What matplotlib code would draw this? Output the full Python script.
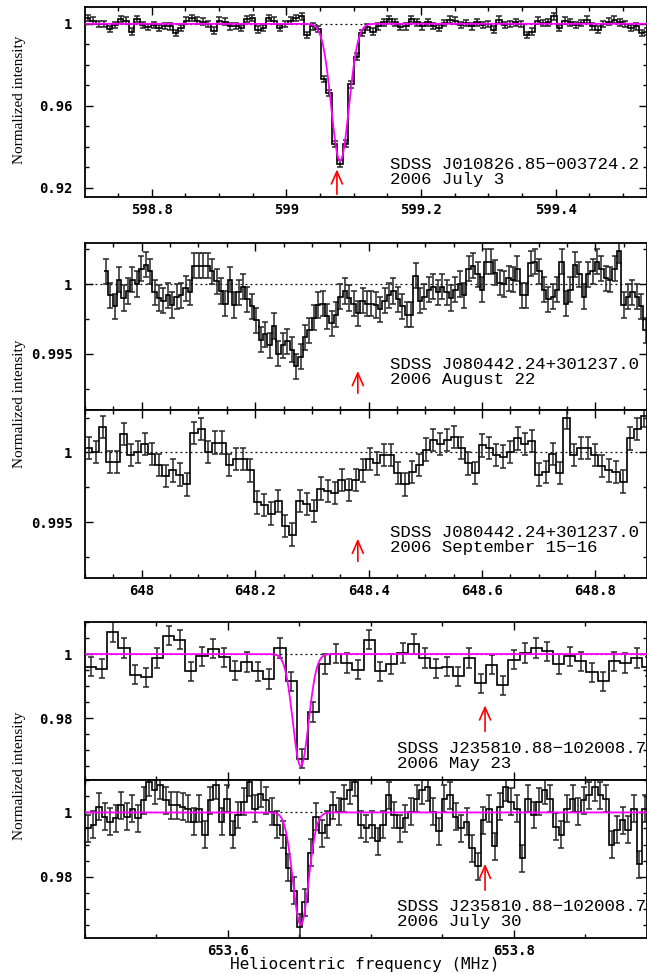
import numpy as np
import matplotlib
matplotlib.use('Agg')
import matplotlib.pyplot as plt
from matplotlib.ticker import MultipleLocator, FuncFormatter

plt.rcParams['font.family'] = 'DejaVu Sans Mono'

# ---- panel 1: SDSS J010826.85-003724.2, 2006 July 3
p1_start = 598.7007   # first channel edge (MHz)
p1_width = 0.00815    # channel width (MHz)
p1_flux = [1.0028, 1.0016, 1.0000, 1.0000, 0.9974, 0.9995, 1.0023, 1.0016, 0.9962, 1.0023,
           0.9995, 0.9984, 0.9995, 0.9979, 0.9990, 0.9987, 0.9954, 0.9979, 1.0016, 1.0028,
           1.0016, 1.0011, 1.0000, 0.9967, 1.0016, 1.0011, 0.9987, 0.9990, 0.9979, 1.0023,
           1.0028, 0.9971, 0.9979, 1.0028, 1.0016, 0.9979, 1.0000, 1.0016, 1.0028, 1.0036,
           0.9946, 0.9987, 0.9974, 0.9730, 0.9663, 0.9412, 0.9317, 0.9415, 0.9704, 0.9840,
           0.9954, 0.9984, 0.9962, 0.9987, 1.0007, 1.0023, 1.0007, 0.9984, 0.9987, 1.0023,
           1.0007, 0.9987, 1.0007, 0.9990, 0.9979, 1.0003, 1.0020, 1.0016, 0.9995, 1.0003,
           0.9987, 1.0007, 0.9995, 1.0000, 0.9971, 1.0020, 0.9995, 1.0000, 1.0007, 1.0000,
           0.9946, 0.9962, 1.0016, 1.0003, 1.0007, 1.0036, 0.9979, 1.0016, 1.0007, 0.9995,
           1.0003, 1.0020, 0.9987, 0.9971, 1.0000, 1.0011, 1.0020, 1.0007, 1.0000, 0.9979,
           0.9987, 0.9954, 0.9962]
p1_err = 0.0016
p1_fit = [599.0797, 0.067, 0.031]   # centre, depth, FWHM

# ---- panel 2: SDSS J080442.24+301237.0, 2006 August 22
p2_start = 647.933
p2_width = 0.0078
p2_flux = [1.0009, 0.9992, 0.9984, 1.0003, 0.9990, 0.9995, 1.0003, 1.0000, 1.0011, 1.0014,
           1.0009, 0.9994, 0.9990, 0.9988, 0.9992, 0.9985, 0.9991, 0.9992, 0.9997, 0.9994,
           1.0013, 1.0013, 1.0013, 1.0013, 1.0009, 1.0002, 0.9995, 0.9986, 1.0003, 0.9985,
           0.9994, 0.9998, 0.9989, 0.9984, 0.9974, 0.9960, 0.9964, 0.9956, 0.9970, 0.9950,
           0.9956, 0.9959, 0.9953, 0.9941, 0.9948, 0.9962, 0.9967, 0.9976, 0.9985, 0.9986,
           0.9977, 0.9972, 0.9978, 0.9991, 0.9995, 0.9990, 0.9986, 0.9979, 0.9988,
           0.9986, 0.9986, 0.9985, 0.9982, 0.9988, 0.9992, 0.9995, 0.9989, 0.9984, 0.9978,
           0.9978, 1.0006, 0.9988, 0.9991, 0.9996, 0.9998, 0.9994, 0.9998, 0.9994, 0.9990,
           0.9996, 1.0000, 0.9992, 1.0011, 1.0013, 1.0007, 0.9996, 1.0016, 1.0016, 1.0008,
           1.0001, 1.0000, 1.0004, 1.0003, 1.0011, 0.9992, 0.9992, 1.0015, 1.0016, 1.0009,
           0.9996, 0.9989, 0.9991, 0.9996, 1.0016, 0.9986, 0.9996, 1.0014, 1.0007, 0.9991,
           1.0007, 1.0009, 1.0016, 1.0011, 1.0004, 1.0003, 1.0011, 1.0024, 0.9985, 0.9991,
           0.9994, 0.9991, 0.9984, 0.9967, 0.9988]
p2_err = 0.0009

# ---- panel 3: SDSS J080442.24+301237.0, 2006 September 15-16
p3_start = 647.9
p3_width = 0.0124
p3_flux = [1.0003, 1.0000, 1.0018, 0.9993, 0.9993, 1.0013, 0.9998, 1.0000, 1.0006, 0.9999,
           0.9991, 0.9983, 0.9987, 0.9984, 0.9977, 1.0014, 1.0017, 1.0000, 1.0007, 1.0007,
           0.9991, 0.9995, 0.9995, 0.9987, 0.9964, 0.9962, 0.9956, 0.9965, 0.9947, 0.9941,
           0.9965, 0.9963, 0.9958, 0.9974, 0.9972, 0.9971, 0.9980, 0.9973, 0.9980, 0.9987,
           0.9995, 0.9992, 0.9998, 0.9998, 0.9985, 0.9977, 0.9986, 0.9991, 1.0002, 1.0009,
           1.0006, 1.0009, 1.0011, 1.0003, 0.9992, 0.9985, 1.0005, 1.0003, 0.9998, 0.9997,
           1.0000, 1.0010, 1.0006, 1.0008, 0.9984, 0.9986, 0.9999, 0.9985, 1.0025, 0.9998,
           1.0003, 1.0003, 0.9998, 0.9990, 0.9987, 0.9986, 0.9979, 1.0010, 1.0017, 1.0026]
p3_err = 0.0008

# ---- panel 4: SDSS J235810.88-102008.7, 2006 May 23
p4_start = 653.5
p4_width = 0.0078
p4_flux = [0.9961, 0.9954, 1.0069, 1.0019, 0.9935, 0.9927, 0.9988, 1.0057, 1.0045, 0.9946,
           0.9993, 1.0017, 0.9990, 0.9948, 0.9975, 0.9946, 0.9922, 1.0019, 0.9915, 0.9673,
           0.9819, 0.9969, 1.0001, 0.9972, 0.9951, 1.0045, 0.9946, 0.9969, 1.0003, 1.0031,
           0.9988, 0.9956, 0.9961, 0.9930, 0.9988, 0.9909, 0.9967, 0.9902, 0.9982, 1.0003,
           1.0019, 1.0008, 0.9969, 0.9993, 0.9977, 0.9943, 0.9915, 0.9977, 0.9972, 0.9988,
           0.9961]
p4_err = 0.003

# ---- panel 5: SDSS J235810.88-102008.7, 2006 July 30
p5_start = 653.5
p5_width = 0.0039
p5_flux = [0.9951, 0.9961, 1.0017, 0.9987, 0.9971, 0.9982, 1.0023, 0.9987, 1.0012, 0.9982,
           1.0038, 1.0094, 1.0069, 1.0084, 1.0038, 1.0023, 1.0023, 1.0017, 1.0012, 0.9971,
           1.0012, 0.9930, 1.0038, 1.0084, 0.9971, 1.0043, 0.9930, 0.9992, 1.0033, 1.0094,
           1.0012, 1.0058, 1.0038, 1.0002, 0.9961, 0.9930, 0.9828, 0.9756, 0.9643, 0.9720,
           0.9874, 0.9987, 0.9935, 0.9961, 1.0023, 1.0002, 1.0043, 1.0069, 1.0094, 0.9961,
           0.9951, 0.9961, 0.9910, 0.9961, 1.0053, 0.9992, 0.9951, 0.9982, 1.0002, 1.0043,
           1.0069, 1.0079, 1.0002, 0.9941, 1.0043, 1.0053, 0.9987, 0.9951, 0.9971, 0.9889,
           0.9833, 0.9976, 1.0012, 0.9894, 1.0017, 1.0079, 1.0033, 1.0012, 0.9858, 1.0043,
           0.9992, 1.0033, 1.0069, 1.0043, 0.9956, 0.9930, 1.0012, 1.0043, 1.0002, 1.0038,
           1.0053, 1.0079, 1.0053, 1.0043, 0.9899, 0.9946, 0.9976, 0.9946, 1.0012, 0.9838,
           1.0012]
p5_err = 0.0042
p45_fit = [653.651, 0.035, 0.013]

# expected line positions (red arrows)
arrow_freq = [599.075, 648.381, 648.381, 653.78, 653.78]

labels = ["SDSS J010826.85\u2212003724.2\n2006 July 3",
          "SDSS J080442.24+301237.0\n2006 August 22",
          "SDSS J080442.24+301237.0\n2006 September 15\u221216",
          "SDSS J235810.88\u2212102008.7\n2006 May 23",
          "SDSS J235810.88\u2212102008.7\n2006 July 30"]

W, H = 647.0, 974.0
fig = plt.figure(figsize=(W / 100, H / 100), dpi=100)

def add_panel(top, bottom, left=85, right=646.5):
	return fig.add_axes([left / W, 1 - bottom / H, (right - left) / W, (bottom - top) / H])

def gfmt(v, pos):
	return '%g' % round(v, 5)

def style(ax, xlim, ylim, xmaj, xmin, ymaj, ymin, xlabels):
	ax.set_xlim(*xlim)
	ax.set_ylim(*ylim)
	ax.xaxis.set_major_locator(MultipleLocator(xmaj))
	ax.xaxis.set_minor_locator(MultipleLocator(xmin))
	ax.yaxis.set_major_locator(MultipleLocator(ymaj))
	ax.yaxis.set_minor_locator(MultipleLocator(ymin))
	ax.xaxis.set_major_formatter(FuncFormatter(gfmt))
	ax.yaxis.set_major_formatter(FuncFormatter(gfmt))
	ax.tick_params(which='both', direction='in', top=True, right=True, width=1.0, labelsize=10)
	ax.tick_params(which='major', length=6)
	ax.tick_params(which='minor', length=3)
	ax.tick_params(axis='x', labelbottom=xlabels, pad=4)
	ax.tick_params(axis='y', pad=9)
	for t in ax.get_xticklabels() + ax.get_yticklabels():
		t.set_fontweight('bold')
	for s in ax.spines.values():
		s.set_linewidth(1.3)

def draw(ax, start, width, flux, err, fit=None):
	flux = np.array(flux)
	edges = start + width * np.arange(len(flux) + 1)
	centres = 0.5 * (edges[1:] + edges[:-1])
	xl = ax.get_xlim()
	ax.axhline(1.0, color='black', ls=(0, (1.5, 2.5)), lw=0.9, zorder=1)
	ax.errorbar(centres, flux, yerr=err, fmt='none', ecolor='0.15', elinewidth=1.1,
				capsize=2.2, capthick=1.1, zorder=2)
	ax.stairs(flux, edges, baseline=None, color='black', lw=1.2, zorder=3)
	if fit is not None:
		xf = np.linspace(xl[0], xl[1], 1500)
		c, d, fw = fit
		yf = 1 - d * np.exp(-4 * np.log(2) * (xf - c) ** 2 / fw ** 2)
		ax.plot(xf, yf, color='magenta', lw=1.3, zorder=4)

def arrow(ax, x, tip, base):
	ax.annotate('', xy=(x, tip), xytext=(x, base), xycoords=('data', 'axes fraction'),
				textcoords=('data', 'axes fraction'),
				arrowprops=dict(arrowstyle='->,head_length=0.5,head_width=0.22',
								color='red', lw=1.2, mutation_scale=18))

def label(ax, text, x, y):
	# two-line source / date annotation
	ax.text(x, y, text, transform=ax.transAxes, ha='left', va='center', fontsize=12.5,
			family='Liberation Mono', linespacing=1.0)

# panel 1
ax1 = add_panel(7, 197)
style(ax1, (598.7007, 599.535), (0.9154, 1.0082), 0.2, 0.05, 0.04, 0.01, True)
draw(ax1, p1_start, p1_width, p1_flux, p1_err, p1_fit)
arrow(ax1, arrow_freq[0], 0.16, 0.0)
label(ax1, labels[0], 0.544, 0.132)

# panels 2 and 3
ax2 = add_panel(243, 410)
style(ax2, (647.9, 648.89), (0.99098, 1.00294), 0.2, 0.05, 0.005, 0.0025, False)
draw(ax2, p2_start, p2_width, p2_flux, p2_err)
arrow(ax2, arrow_freq[1], 0.25, 0.084)
label(ax2, labels[1], 0.544, 0.23)

ax3 = add_panel(410, 578)
style(ax3, (647.9, 648.89), (0.99098, 1.00304), 0.2, 0.05, 0.005, 0.0025, True)
draw(ax3, p3_start, p3_width, p3_flux, p3_err)
arrow(ax3, arrow_freq[2], 0.25, 0.083)
label(ax3, labels[2], 0.544, 0.226)

# panels 4 and 5
ax4 = add_panel(622, 780)
style(ax4, (653.5, 653.893), (0.9607, 1.0100), 0.2, 0.05, 0.02, 0.005, False)
draw(ax4, p4_start, p4_width, p4_flux, p4_err, p45_fit)
arrow(ax4, arrow_freq[3], 0.49, 0.29)
label(ax4, labels[3], 0.555, 0.155)

ax5 = add_panel(780, 938)
style(ax5, (653.5, 653.893), (0.9609, 1.0101), 0.2, 0.05, 0.02, 0.005, True)
draw(ax5, p5_start, p5_width, p5_flux, p5_err, p45_fit)
arrow(ax5, arrow_freq[4], 0.487, 0.285)
label(ax5, labels[4], 0.555, 0.152)

fig.text(365 / W, 1 - 964 / H, 'Heliocentric frequency (MHz)', ha='center', va='center',
		 fontsize=11.5)

# y axis labels
for yc in [100, 404, 776]:
	fig.text(20 / W, 1 - yc / H, 'Normalized intensity', rotation=90, ha='center', va='center',
			 family='Liberation Serif', fontsize=11)

fig.savefig('out.png', dpi=100)
